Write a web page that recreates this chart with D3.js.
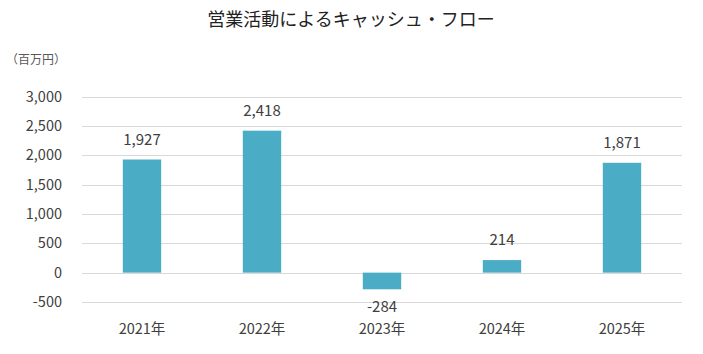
<!DOCTYPE html>
<html><head><meta charset="utf-8">
<script src="https://cdn.jsdelivr.net/npm/d3@7"></script>
<style>body{margin:0;background:#fff;}svg{display:block;font-family:"Noto Sans CJK JP","Noto Sans",sans-serif;}</style>
</head><body><svg id="c" width="703" height="354"></svg>
<script>
const title = "営業活動によるキャッシュ・フロー";
const unitLabel = "（百万円）";
const categories = ["2021年","2022年","2023年","2024年","2025年"];
const values = [1927, 2418, -284, 214, 1871];
const yTicks = [-500, 0, 500, 1000, 1500, 2000, 2500, 3000];

(function(){
const svg = d3.select("#c");
const mLeft = 82, mRight = 682, mTop = 96.5, mBottom = 302;
const x = d3.scaleBand().domain(categories).range([mLeft, mRight]).paddingInner(0.68).paddingOuter(0.34);
const y = d3.scaleLinear().domain([-500, 3000]).range([mBottom, mTop]);
const f0 = d3.format(",");
const fmt = d => f0(d).replace("\u2212", "-");

svg.append("text").attr("x", 351).attr("y", 26).attr("text-anchor", "middle")
  .attr("font-size", 18).attr("fill", "#222").text(title);
svg.append("text").attr("x", 6).attr("y", 64).attr("font-size", 12).attr("fill", "#595959").text(unitLabel);

const g = svg.append("g");
g.selectAll("line.grid").data(yTicks).join("line")
  .attr("x1", mLeft).attr("x2", mRight)
  .attr("y1", d => Math.round(y(d)) + 0.5).attr("y2", d => Math.round(y(d)) + 0.5)
  .attr("stroke", "#d9d9d9").attr("stroke-width", 1);
g.selectAll("text.yt").data(yTicks).join("text")
  .attr("x", 62).attr("y", d => y(d)).attr("dy", "0.35em").attr("text-anchor", "end")
  .attr("font-size", 14.5).attr("fill", "#404040").text(d => fmt(d));

g.selectAll("rect").data(values).join("rect")
  .attr("x", (d, i) => x(categories[i]))
  .attr("width", x.bandwidth())
  .attr("y", d => y(Math.max(0, d)))
  .attr("height", d => Math.abs(y(d) - y(0)))
  .attr("fill", "#4bacc6");

g.selectAll("text.val").data(values).join("text")
  .attr("x", (d, i) => x(categories[i]) + x.bandwidth() / 2)
  .attr("y", d => d >= 0 ? y(d) - 20 : y(d) + 17.5)
  .attr("dy", "0.35em").attr("text-anchor", "middle")
  .attr("font-size", 15).attr("fill", "#404040").text(d => fmt(d));

g.selectAll("text.xl").data(categories).join("text")
  .attr("x", d => x(d) + x.bandwidth() / 2).attr("y", 328.5).attr("dy", "0.35em")
  .attr("text-anchor", "middle").attr("font-size", 14.5).attr("fill", "#404040").text(d => d);
})();
</script></body></html>
